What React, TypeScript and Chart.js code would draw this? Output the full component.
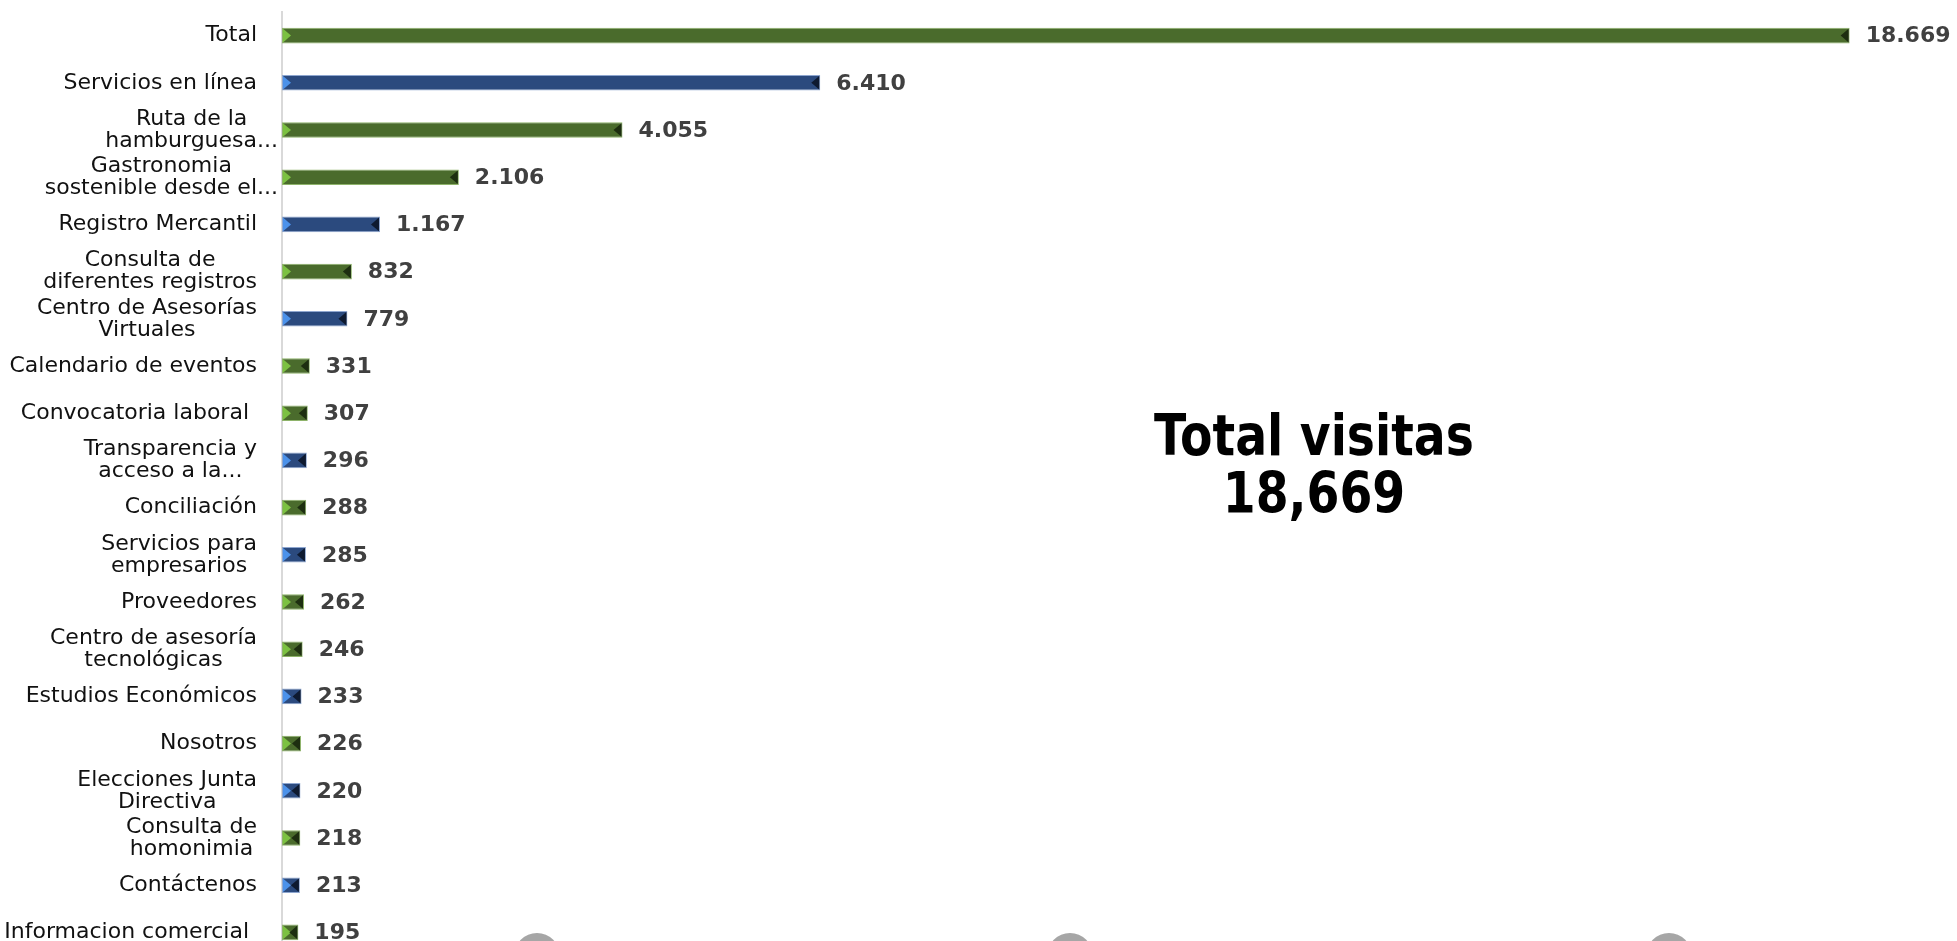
import React, { useEffect, useRef } from "react";
import { Chart, registerables } from "chart.js";

Chart.register(...registerables);

const categories: (string | string[])[] = [
  "Total",
  "Servicios en línea",
  ["Ruta de la", "hamburguesa..."],
  ["Gastronomia", "sostenible desde el..."],
  "Registro Mercantil",
  ["Consulta de", "diferentes registros"],
  ["Centro de Asesorías", "Virtuales"],
  "Calendario de eventos",
  "Convocatoria laboral",
  ["Transparencia y", "acceso a la..."],
  "Conciliación",
  ["Servicios para", "empresarios"],
  "Proveedores",
  ["Centro de asesoría", "tecnológicas"],
  "Estudios Económicos",
  "Nosotros",
  ["Elecciones Junta", "Directiva"],
  ["Consulta de", "homonimia"],
  "Contáctenos",
  "Informacion comercial",
];

const visits: number[] = [
  18669, 6410, 4055, 2106, 1167, 832, 779, 331, 307, 296, 288, 285, 262, 246,
  233, 226, 220, 218, 213, 195,
];

const barGroup: string[] = [
  "g", "b", "g", "g", "b", "g", "b", "g", "g", "b",
  "g", "b", "g", "g", "b", "g", "b", "g", "b", "g",
];

// right edge of each label block (Excel lets truncated labels run further right)
const labelRight: number[] = [
  257, 257, 278, 278, 257, 257, 257, 257, 249, 257,
  257, 257, 257, 257, 257, 257, 257, 257, 257, 249,
];

const totalTitle = ["Total visitas", "18,669"];

const PALETTE: Record<string, { fill: string; border: string; light: string; dark: string }> = {
  g: { fill: "#4a6b2c", border: "#8eb36a", light: "#7cc142", dark: "#1d2e10" },
  b: { fill: "#2b4a7e", border: "#8ea6cf", light: "#4c92ea", dark: "#0e1a30" },
};

const fmt = (v: number) => String(v).replace(/\B(?=(\d{3})+(?!\d))/g, ".");

const bevelPlugin = {
  id: "bevel",
  afterDatasetsDraw(chart: any) {
    const ctx = chart.ctx;
    const meta = chart.getDatasetMeta(0);
    meta.data.forEach((bar: any, i: number) => {
      const p = bar.getProps(["x", "y", "base", "height"], true);
      const h = p.height;
      const top = p.y - h / 2 + 1;
      const bottom = p.y + h / 2 - 1;
      const w = p.x - p.base;
      const b = Math.min(8, w / 2);
      const pal = PALETTE[barGroup[i]];
      ctx.save();
      ctx.fillStyle = pal.light;
      ctx.beginPath();
      ctx.moveTo(p.base + 1, top);
      ctx.lineTo(p.base + 1 + b, p.y);
      ctx.lineTo(p.base + 1, bottom);
      ctx.closePath();
      ctx.fill();
      ctx.fillStyle = pal.dark;
      ctx.beginPath();
      ctx.moveTo(p.x - 1, top);
      ctx.lineTo(p.x - 1 - b, p.y);
      ctx.lineTo(p.x - 1, bottom);
      ctx.closePath();
      ctx.fill();
      ctx.restore();
    });
  },
};

const labelsPlugin = {
  id: "labelsDraw",
  afterDraw(chart: any) {
    const ctx = chart.ctx;
    const yScale = chart.scales.y;
    const meta = chart.getDatasetMeta(0);
    ctx.save();
    ctx.font = "22px 'DejaVu Sans'";
    ctx.fillStyle = "#111111";
    ctx.textBaseline = "middle";
    ctx.textAlign = "center";
    const lh = 22;
    categories.forEach((lab, i) => {
      const lines = Array.isArray(lab) ? lab : [lab];
      const cy = yScale.getPixelForValue(i);
      const maxW = Math.max(...lines.map((l) => ctx.measureText(l).width));
      const cx = labelRight[i] - maxW / 2;
      lines.forEach((l, k) => {
        const y = cy + (k - (lines.length - 1) / 2) * lh;
        ctx.fillText(l, cx, y);
      });
    });
    ctx.font = "bold 22px 'DejaVu Sans'";
    ctx.fillStyle = "#404040";
    ctx.textAlign = "left";
    meta.data.forEach((bar: any, i: number) => {
      const p = bar.getProps(["x", "y"], true);
      ctx.fillText(fmt(visits[i]), p.x + 16, p.y + 1);
    });
    ctx.restore();
  },
};

export default function App() {
  const ref = useRef<HTMLCanvasElement | null>(null);

  useEffect(() => {
    if (!ref.current) return;
    const chart = new Chart(ref.current, {
      type: "bar",
      data: {
        labels: categories,
        datasets: [
          {
            label: "Visitas",
            data: visits,
            backgroundColor: barGroup.map((g) => PALETTE[g].fill),
            borderColor: barGroup.map((g) => PALETTE[g].border),
            borderWidth: 1,
            borderSkipped: false,
            barPercentage: 0.33,
            categoryPercentage: 1,
          },
        ],
      },
      options: {
        indexAxis: "y",
        responsive: false,
        maintainAspectRatio: false,
        animation: false,
        layout: { padding: { left: 282, right: 4, top: 12, bottom: 4 } },
        plugins: {
          legend: { display: false },
          tooltip: { enabled: false },
          title: { display: false },
        },
        scales: {
          x: {
            display: false,
            min: 0,
            max: 19900,
          },
          y: {
            display: true,
            ticks: { display: false },
            grid: { display: false, drawTicks: false },
            border: { display: true, color: "#d9d9d9", width: 2 },
          },
        },
      },
      plugins: [bevelPlugin, labelsPlugin],
    });
    return () => chart.destroy();
  }, []);

  const circles = [537, 1070, 1669];

  return (
    <div
      style={{
        position: "fixed",
        left: 0,
        top: 0,
        width: 1957,
        height: 941,
        overflow: "hidden",
        background: "#ffffff",
      }}
    >
      <canvas ref={ref} width={1957} height={960} style={{ display: "block" }} />
      <div
        style={{
          position: "absolute",
          left: 1014,
          top: 406,
          width: 600,
          textAlign: "center",
          fontFamily: "'DejaVu Sans', sans-serif",
          fontWeight: "bold",
          fontSize: 57,
          lineHeight: "58px",
          color: "#000000",
          transform: "scaleX(0.83)",
          transformOrigin: "center top",
        }}
      >
        {totalTitle.map((t) => (
          <div key={t}>{t}</div>
        ))}
      </div>
      {circles.map((cx) => (
        <div
          key={cx}
          style={{
            position: "absolute",
            left: cx - 23,
            top: 933,
            width: 46,
            height: 46,
            borderRadius: "50%",
            background: "#a6a6a6",
          }}
        />
      ))}
    </div>
  );
}
